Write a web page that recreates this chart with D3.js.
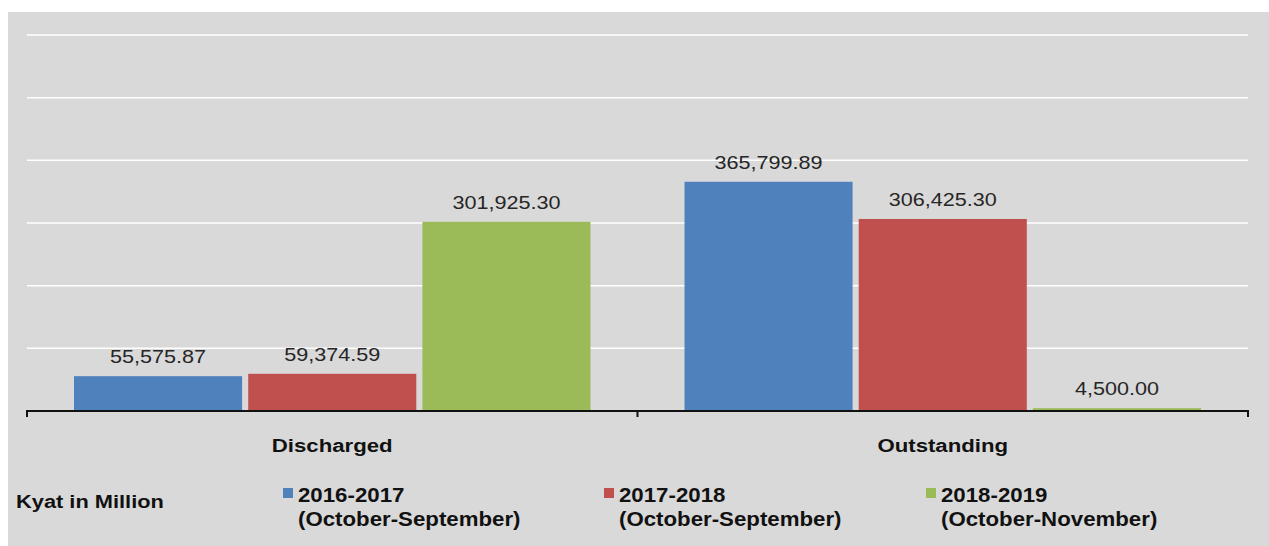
<!DOCTYPE html>
<html><head><meta charset="utf-8">
<script src="https://cdn.jsdelivr.net/npm/d3@7"></script>
<style>body{margin:0;background:#fff;}svg{display:block;font-family:"Liberation Sans",Arial,sans-serif;}</style>
</head><body>
<svg id="c" width="1269" height="546"></svg>
<script>
const categories = ["Discharged", "Outstanding"];
const seriesNames = ["2016-2017", "2017-2018", "2018-2019"];
const seriesPeriods = ["(October-September)", "(October-September)", "(October-November)"];
const values2016 = [55575.87, 365799.89];
const values2017 = [59374.59, 306425.30];
const values2018 = [301925.30, 4500.00];
const gridTicks = [0, 100000, 200000, 300000, 400000, 500000, 600000];
const colors = ["#4f81bd", "#c0504d", "#9bbb59"];
const unitLabel = "Kyat in Million";

(function () {
const seriesValues = [values2016, values2017, values2018];
const svg = d3.select("#c");
svg.append("rect").attr("x", 8).attr("y", 12).attr("width", 1261).attr("height", 534).attr("fill", "#d9d9d9");

const pLeft = 27, pRight = 1248, pTop = 35, pBottom = 411;
const y = d3.scaleLinear().domain([0, 600000]).range([pBottom, pTop]);
const x0 = d3.scaleBand().domain(categories).range([pLeft, pRight]).paddingInner(0).paddingOuter(0);
const x1 = d3.scaleBand().domain(seriesNames).range([47, x0.bandwidth() - 47]).paddingInner(0.035);

svg.append("g").selectAll("line").data(gridTicks.slice(1)).join("line")
  .attr("x1", pLeft).attr("x2", pRight).attr("y1", d => y(d)).attr("y2", d => y(d))
  .attr("stroke", "#ffffff").attr("stroke-width", 1.5);

const data = [];
categories.forEach((c, i) => seriesNames.forEach((s, j) => data.push({c, s, j, v: seriesValues[j][i]})));

const g = svg.append("g");
g.selectAll("rect").data(data).join("rect")
  .attr("x", d => x0(d.c) + x1(d.s)).attr("width", x1.bandwidth())
  .attr("y", d => y(d.v)).attr("height", d => pBottom - y(d.v))
  .attr("fill", d => colors[d.j]);

const fmt = d3.format(",.2f");
g.selectAll("text").data(data).join("text")
  .attr("transform", d => `translate(${x0(d.c) + x1(d.s) + x1.bandwidth() / 2},${y(d.v) - 13}) scale(1.2,1)`)
  .attr("text-anchor", "middle").attr("font-size", 18).attr("fill", "#262626")
  .text(d => fmt(d.v));

const axis = d3.axisBottom(x0).tickSize(0).tickFormat("");
const ag = svg.append("g").attr("transform", `translate(0,${pBottom})`).call(axis);
ag.select(".domain").attr("stroke", "#111").attr("stroke-width", 2).attr("fill", "none").attr("d", `M${pLeft},6V0H${pRight}V6`);
ag.append("line").attr("x1", (pLeft + pRight) / 2).attr("x2", (pLeft + pRight) / 2).attr("y1", 0).attr("y2", 6).attr("stroke", "#111").attr("stroke-width", 2);

svg.append("g").selectAll("text").data(categories).join("text")
  .attr("transform", d => `translate(${x0(d) + x0.bandwidth() / 2},452) scale(1.2,1)`)
  .attr("text-anchor", "middle").attr("font-size", 18.5).attr("font-weight", "bold").attr("fill", "#111")
  .text(d => d);

svg.append("text").attr("transform", "translate(16,508) scale(1.18,1)").attr("font-size", 18.5).attr("font-weight", "bold").attr("fill", "#111").text(unitLabel);
const legX = [283, 604, 926];
const lg = svg.append("g").selectAll("g").data(seriesNames).join("g").attr("transform", (d, i) => `translate(${legX[i]},0)`);
lg.append("rect").attr("x", 0).attr("y", 488).attr("width", 10).attr("height", 10).attr("fill", (d, i) => colors[i]);
lg.append("text").attr("transform", "translate(15,502) scale(1.06,1)").attr("font-size", 21).attr("font-weight", "bold").attr("fill", "#111").text(d => d);
lg.append("text").attr("transform", "translate(15,526) scale(1.06,1)").attr("font-size", 21).attr("font-weight", "bold").attr("fill", "#111").text((d, i) => seriesPeriods[i]);
})();
</script>
</body></html>
